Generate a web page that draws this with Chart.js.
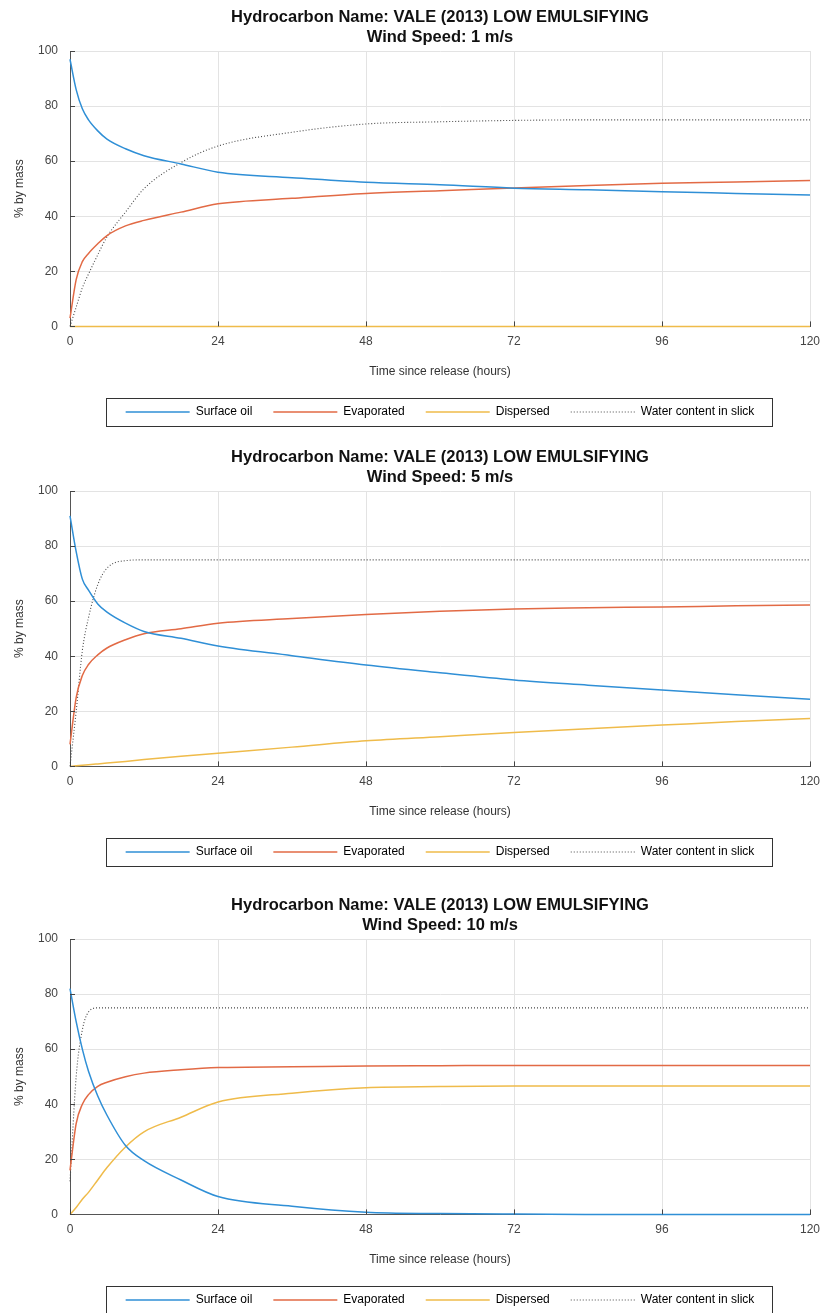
<!DOCTYPE html>
<html>
<head>
<meta charset="utf-8">
<script src="https://cdn.jsdelivr.net/npm/chart.js@4/dist/chart.umd.min.js"></script>
<style>
  html, body { margin: 0; padding: 0; background: #fff; }
  body { width: 823px; height: 1313px; overflow: hidden; position: relative; }
  .panel { position: absolute; left: 0; width: 823px; }
  canvas { display: block; }
</style>
</head>
<body>
<div class="panel" style="top:0px"><canvas id="c1" width="823" height="440"></canvas></div>
<div class="panel" style="top:440px"><canvas id="c2" width="823" height="440"></canvas></div>
<div class="panel" style="top:888px"><canvas id="c3" width="823" height="440"></canvas></div>
<script>
// time axis (hours) shared by all three runs
const times = [0, 1, 2, 3, 4.5, 6, 9, 12, 18, 24, 36, 48, 60, 72, 84, 96, 108, 120];
const xTicks = [0, 24, 48, 72, 96, 120];
const yTicks = [0, 20, 40, 60, 80, 100];
const seriesNames = ['Surface oil', 'Evaporated', 'Dispersed', 'Water content in slick'];
const windSpeeds = ['1 m/s', '5 m/s', '10 m/s'];

// 1 m/s
const surface1 = [97, 86, 79, 75, 71, 68, 64.5, 62, 59, 56, 54, 52.3, 51.4, 50.2, 49.6, 48.9, 48.3, 47.7];
const evap1    = [3, 17, 23.5, 26.5, 30, 33, 36.5, 38.5, 41.5, 44.5, 46.5, 48.3, 49.3, 50.3, 51.2, 52, 52.4, 53];
const disp1    = [0, 0, 0, 0, 0, 0, 0, 0, 0, 0, 0, 0, 0, 0, 0, 0, 0, 0];
const water1   = [0, 7, 14, 19, 26, 32.5, 41.5, 50, 59.5, 65.5, 70.5, 73.5, 74.3, 74.8, 75, 75, 75, 75];

// 5 m/s
const surface2 = [91, 78, 68, 64, 59, 56, 52, 49, 46.5, 43.7, 40.2, 36.8, 34, 31.4, 29.5, 27.7, 26, 24.4];
const evap2    = [8, 25, 33, 37, 40.5, 43, 46, 48.2, 50, 52, 53.7, 55.2, 56.3, 57.2, 57.6, 57.9, 58.3, 58.6];
const disp2    = [0, 0.2, 0.4, 0.6, 0.9, 1.2, 1.8, 2.5, 3.7, 4.8, 7, 9.3, 10.8, 12.3, 13.7, 15, 16.3, 17.4];
const water2   = [0, 20, 42, 54, 66, 72, 74.7, 75, 75, 75, 75, 75, 75, 75, 75, 75, 75, 75];

// 10 m/s
const surface3 = [82, 70, 60, 52, 43, 36, 25, 19.5, 12.5, 6.5, 3, 0.8, 0.3, 0.1, 0, 0, 0, 0];
const evap3    = [16, 33, 40, 43.5, 46.5, 48, 50, 51.3, 52.5, 53.3, 53.6, 53.9, 54, 54.1, 54.1, 54.1, 54.1, 54.1];
const disp3    = [0, 2.5, 5.5, 8, 12.5, 17, 24.5, 30, 35.3, 40.8, 44, 46, 46.4, 46.6, 46.6, 46.6, 46.6, 46.6];
const water3   = [12, 50, 67, 73.5, 75, 75, 75, 75, 75, 75, 75, 75, 75, 75, 75, 75, 75, 75];

const FONT = "'Liberation Sans', Arial, sans-serif";
const lineColors = ['#2f8fd6', '#e26a45', '#efbb4a', '#4a4a4a'];
const lineDashes = [[], [], [], [1, 2]];
const lineWidths = [1.5, 1.5, 1.5, 1.1];

// box around the legend, like the matlab one
const legendFrame = {
    id: 'legendFrame',
    afterDraw(chart) {
        const lg = chart.legend;
        if (!lg || !lg.legendHitBoxes || !lg.legendHitBoxes.length) return;
        const boxes = lg.legendHitBoxes;
        const left = Math.min(...boxes.map(b => b.left)) - 20;
        const right = Math.max(...boxes.map(b => b.left + b.width)) + 17;
        const cy = boxes[0].top + boxes[0].height / 2;
        const ctx = chart.ctx;
        ctx.save();
        ctx.strokeStyle = '#333';
        ctx.lineWidth = 1;
        ctx.strokeRect(Math.round(left) + 0.5, Math.round(cy - 14) + 0.5, Math.round(right - left), 28);
        ctx.restore();
    }
};

// tick marks pointing into the plot
const innerTicks = {
    id: 'innerTicks',
    afterDatasetsDraw(chart) {
        const { ctx, chartArea: a, scales: { x, y } } = chart;
        ctx.save();
        ctx.strokeStyle = '#444';
        ctx.lineWidth = 1;
        ctx.beginPath();
        x.ticks.forEach(t => {
            const px = Math.round(x.getPixelForValue(t.value)) + 0.5;
            ctx.moveTo(px, a.bottom);
            ctx.lineTo(px, a.bottom - 5);
        });
        y.ticks.forEach(t => {
            const py = Math.round(y.getPixelForValue(t.value)) + 0.5;
            ctx.moveTo(a.left, py);
            ctx.lineTo(a.left + 5, py);
        });
        ctx.stroke();
        ctx.restore();
    }
};

function toPoints(values) {
    return times.map((t, i) => ({ x: t, y: values[i] }));
}

function makeChart(id, wind, series) {
    const ctx = document.getElementById(id).getContext('2d');
    return new Chart(ctx, {
        type: 'line',
        data: {
            datasets: series.map((vals, i) => ({
                label: seriesNames[i],
                data: toPoints(vals),
                borderColor: lineColors[i],
                backgroundColor: lineColors[i],
                borderWidth: lineWidths[i],
                borderDash: lineDashes[i],
                pointRadius: 0,
                cubicInterpolationMode: 'monotone',
                clip: 4
            }))
        },
        options: {
            responsive: false,
            animation: false,
            devicePixelRatio: 1,
            layout: { padding: { left: 0, right: 0, top: 0, bottom: 12 } },
            plugins: {
                tooltip: { enabled: false },
                title: {
                    display: true,
                    fullSize: false,
                    text: ['Hydrocarbon Name: VALE (2013) LOW EMULSIFYING', 'Wind Speed: ' + wind],
                    color: '#111',
                    font: { family: FONT, size: 16.5, weight: 'bold', lineHeight: 1.27 },
                    padding: { top: 6.5, bottom: 2.6 }
                },
                legend: {
                    position: 'bottom',
                    fullSize: false,
                    labels: {
                        usePointStyle: true,
                        pointStyleWidth: 64,
                        padding: 21,
                        color: '#222',
                        font: { family: FONT, size: 12 },
                        generateLabels(chart) {
                            return chart.data.datasets.map((ds, i) => ({
                                text: ds.label,
                                datasetIndex: i,
                                strokeStyle: ds.borderColor,
                                fillStyle: 'rgba(0,0,0,0)',
                                lineWidth: ds.borderWidth,
                                lineDash: ds.borderDash,
                                pointStyle: 'line',
                                hidden: false
                            }));
                        }
                    }
                }
            },
            scales: {
                x: {
                    type: 'linear',
                    min: 0,
                    max: 120,
                    afterBuildTicks: axis => { axis.ticks = xTicks.map(v => ({ value: v })); },
                    afterFit: axis => {
                        axis.height = 58.6;
                        axis.paddingLeft = 0;
                        axis.paddingRight = 13;
                    },
                    grid: { color: '#e3e3e3', drawTicks: false },
                    border: { color: '#555', width: 1 },
                    ticks: { color: '#444', padding: 8, font: { family: FONT, size: 12 }, maxRotation: 0 },
                    title: {
                        display: true,
                        text: 'Time since release (hours)',
                        color: '#333',
                        font: { family: FONT, size: 12 },
                        padding: { top: 4, bottom: 6.4 }
                    }
                },
                y: {
                    min: 0,
                    max: 100,
                    afterBuildTicks: axis => { axis.ticks = yTicks.map(v => ({ value: v })); },
                    afterFit: axis => { axis.width = 70; },
                    grid: { color: '#e3e3e3', drawTicks: false },
                    border: { color: '#555', width: 1 },
                    ticks: { color: '#444', padding: 12, font: { family: FONT, size: 12 } },
                    title: {
                        display: true,
                        text: '% by mass',
                        color: '#333',
                        font: { family: FONT, size: 12 },
                        padding: { top: 12.8, bottom: 2 }
                    }
                }
            }
        },
        plugins: [innerTicks, legendFrame]
    });
}

makeChart('c1', windSpeeds[0], [surface1, evap1, disp1, water1]);
makeChart('c2', windSpeeds[1], [surface2, evap2, disp2, water2]);
makeChart('c3', windSpeeds[2], [surface3, evap3, disp3, water3]);
</script>
</body>
</html>
